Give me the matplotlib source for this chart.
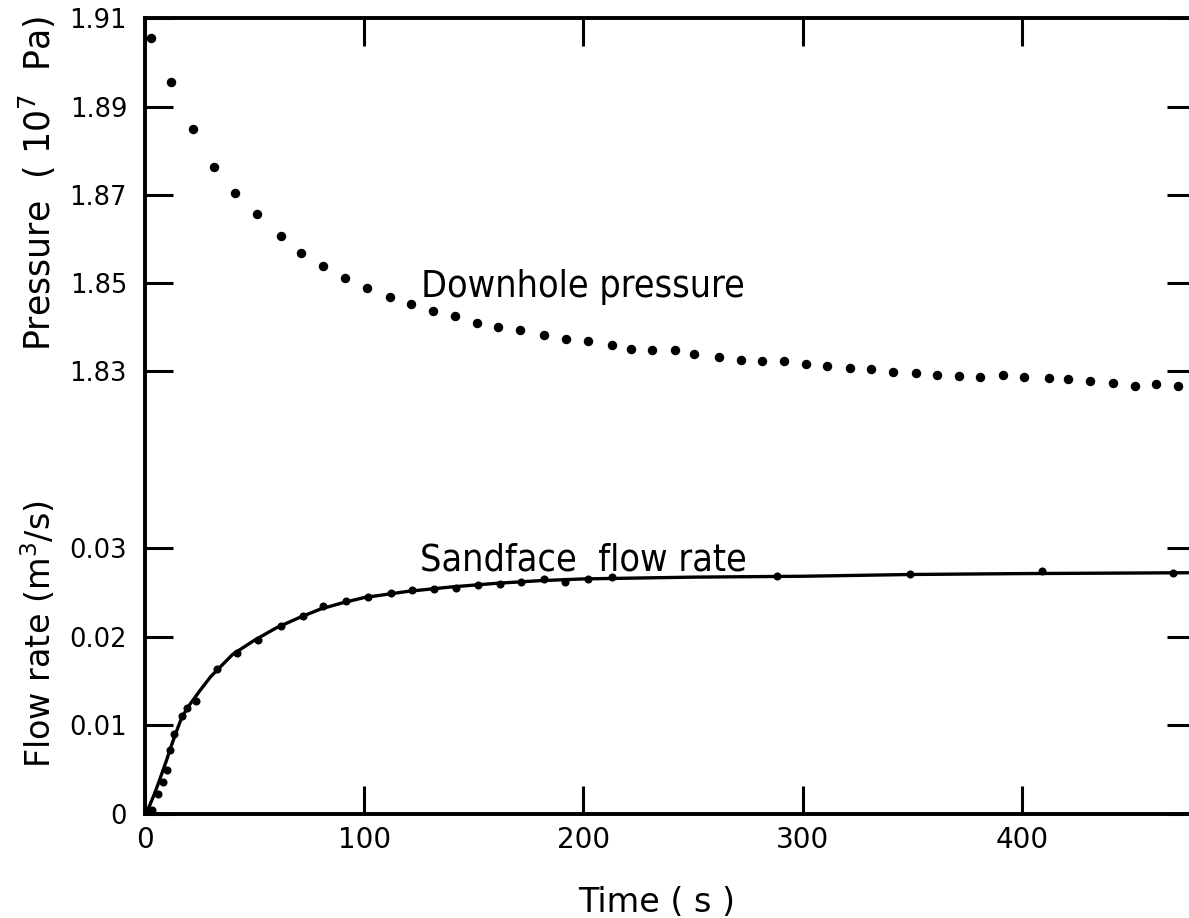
import matplotlib
matplotlib.use("Agg")
import matplotlib.pyplot as plt

# downhole pressure (10^7 Pa) - dots
p_time = [2.7, 12.0, 21.8, 31.5, 41.2, 51.2, 61.9, 71.2, 81.1, 91.4,
          101.4, 111.8, 121.4, 131.4, 141.5, 151.2, 161.1, 171.2, 182.0, 191.9,
          202.1, 212.9, 221.8, 231.2, 241.8, 250.3, 261.8, 271.9, 281.6, 291.5,
          301.6, 311.1, 321.4, 331.3, 341.0, 351.5, 361.4, 371.3, 381.0, 391.3,
          401.0, 412.2, 421.0, 430.9, 441.7, 451.6, 461.0, 471.1]
p_val = [1.9056, 1.8955, 1.8849, 1.8762, 1.8704, 1.8657, 1.8606, 1.8567, 1.8537, 1.8510,
         1.8488, 1.8467, 1.8452, 1.8437, 1.8424, 1.8409, 1.8399, 1.8392, 1.8382, 1.8372,
         1.8367, 1.8359, 1.8350, 1.8347, 1.8347, 1.8339, 1.8332, 1.8324, 1.8323, 1.8322,
         1.8316, 1.8311, 1.8307, 1.8304, 1.8298, 1.8294, 1.8290, 1.8289, 1.8286, 1.8290,
         1.8286, 1.8283, 1.8281, 1.8277, 1.8273, 1.8266, 1.8271, 1.8266]

# sandface flow rate (m3/s) - dots
q_time = [1.5, 3.0, 6.1, 8.4, 9.9, 11.4, 13.2, 16.7, 19.0, 23.3,
          33.0, 41.8, 51.4, 62.0, 71.9, 81.1, 91.5, 101.9, 112.1, 121.8,
          131.9, 141.8, 151.9, 162.0, 171.7, 182.0, 191.4, 202.0, 213.1, 288.5,
          348.9, 409.2, 469.0]
q_val = [0.0003, 0.0005, 0.0023, 0.0036, 0.0050, 0.0072, 0.0090, 0.0110, 0.0119, 0.0127,
         0.0163, 0.0182, 0.0196, 0.0212, 0.0223, 0.0234, 0.0240, 0.0245, 0.0249, 0.0252,
         0.0254, 0.0255, 0.0258, 0.0259, 0.0261, 0.0265, 0.0262, 0.0265, 0.0267, 0.0268,
         0.0270, 0.0274, 0.0272]

# sandface flow rate - solid curve
fit_time = [0, 2, 4, 6, 8, 10, 12, 14, 16, 18,
            20, 25, 30, 40, 50, 60, 70, 80, 90, 100,
            120, 140, 160, 180, 200, 250, 300, 350, 400, 479]
fit_val = [0, 0.0009, 0.0021, 0.0034, 0.0048, 0.0062, 0.0077, 0.0091, 0.0104, 0.0114,
           0.0122, 0.0139, 0.0155, 0.0180, 0.0196, 0.0210, 0.0221, 0.0231, 0.0238, 0.0244,
           0.0251, 0.0256, 0.0260, 0.0263, 0.0265, 0.0267, 0.0268, 0.0270, 0.0271, 0.0272]

x_ticks = [0, 100, 200, 300, 400]
q_ticks = [0, 0.01, 0.02, 0.03]
q_labels = ["0", "0.01", "0.02", "0.03"]
p_ticks = [1.83, 1.85, 1.87, 1.89, 1.91]
p_labels = ["1.83", "1.85", "1.87", "1.89", "1.91"]

plt.rcParams['font.family'] = ['DejaVu Sans']

fig = plt.figure(figsize=(11.89, 9.18), dpi=100)
ax = fig.add_axes([0.122, 0.1133, 0.8831, 0.8666])
axp = ax.twinx()

# flow rate
ax.plot(fit_time, fit_val, color='black', lw=2.4, zorder=2)
ax.plot(q_time, q_val, 'o', color='black', ms=4.8, zorder=3)
ax.set_xlim(0, 479)
ax.set_ylim(0, 0.08968)
ax.set_xticks(x_ticks)
ax.set_yticks(q_ticks)
ax.set_yticklabels(q_labels)

# pressure
axp.plot(p_time, p_val, 'o', color='black', ms=5.8, zorder=3)
axp.set_ylim(1.7294, 1.91)
axp.set_yticks(p_ticks)
axp.set_yticklabels(p_labels)

for a in (ax, axp):
    for s in a.spines.values():
        s.set_linewidth(2.6)
    a.tick_params(axis='y', direction='in', length=20, width=2.2,
                  left=True, right=True, labelleft=True, labelright=False,
                  labelsize=18.5, pad=13)
ax.tick_params(axis='x', direction='in', length=20, width=2.2,
               top=True, bottom=True, labelsize=20, pad=9)

ax.set_xlabel("Time ( s )", fontsize=24)
ax.xaxis.set_label_coords(0.4876, -0.0900)
axp.yaxis.set_label_position('left')
axp.set_ylabel("Pressure  ( 10$^7$  Pa)", fontsize=25, va='center')
axp.yaxis.set_label_coords(-0.103, 0.793)
ax.set_ylabel("Flow rate (m$^3$/s)", fontsize=24, va='center')
ax.yaxis.set_label_coords(-0.101, 0.226)

axp.text(125.9, 1.8467, "Downhole pressure", fontsize=27, fontstretch='condensed',
         ha='left', va='baseline')
ax.text(125.5, 0.0275, "Sandface  flow rate", fontsize=27, fontstretch='condensed',
        ha='left', va='baseline')

fig.savefig("out.png", dpi=100)
